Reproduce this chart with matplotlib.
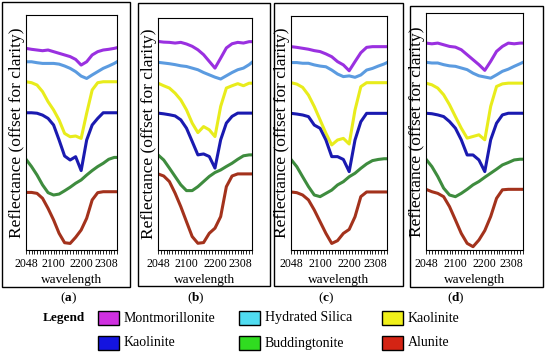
import matplotlib
matplotlib.use("Agg")
import matplotlib.pyplot as plt
from matplotlib.patches import Rectangle

plt.rcParams["font.family"] = ["Liberation Serif", "DejaVu Serif"]
plt.rcParams["mathtext.fontset"] = "custom"
plt.rcParams["mathtext.bf"] = "Liberation Serif:bold"

# band index grid (every other band), tick labels
bands = [0, 2, 4, 6, 8, 10, 12, 14, 16, 18, 20, 22, 24, 26, 28, 30, 32, 33]
tick_pos = [0, 10, 20, 29]
tick_labels = ["2048", "2100", "2200", "2308"]
panel_names = ["a", "b", "c", "d"]
minerals = ["Montmorillonite", "Hydrated Silica", "Kaolinite", "Kaolinite", "Buddingtonite", "Alunite"]

# panel (a)
a_mont = [85.8, 85.4, 85.1, 84.8, 85.1, 84.4, 83.7, 83.0, 82.3, 81.1, 78.7, 80.1, 83.0, 84.4, 85.1, 85.4, 85.8, 86.1]
a_silica = [80.1, 80.1, 79.7, 79.4, 79.4, 79.4, 79.1, 78.3, 77.3, 75.9, 74.0, 73.0, 74.5, 75.9, 77.3, 78.3, 79.4, 80.1]
a_kaol_y = [71.6, 71.2, 70.2, 67.4, 63.1, 59.6, 55.3, 49.6, 48.2, 48.5, 47.5, 58.2, 68.1, 71.2, 71.6, 71.6, 71.6, 71.6]
a_kaol_b = [58.4, 58.4, 58.2, 57.4, 56.0, 53.2, 46.8, 40.0, 38.3, 39.7, 33.8, 46.8, 53.2, 56.0, 58.4, 58.4, 58.4, 58.4]
a_budd = [38.6, 35.5, 31.9, 27.7, 24.4, 23.4, 23.8, 25.2, 26.7, 28.4, 29.8, 31.9, 33.8, 35.5, 36.9, 38.6, 39.4, 39.4]
a_alun = [24.5, 24.5, 24.1, 22.0, 17.7, 12.8, 7.1, 3.1, 2.8, 5.4, 8.5, 13.5, 21.3, 24.4, 24.8, 24.8, 24.8, 24.8]

# panel (b)
b_mont = [89.9, 89.6, 89.5, 89.2, 89.5, 88.8, 87.8, 86.3, 84.2, 81.3, 78.4, 82.7, 87.1, 88.9, 89.5, 89.2, 89.8, 89.8]
b_silica = [80.9, 80.6, 80.3, 79.9, 79.4, 79.1, 78.4, 77.7, 76.5, 75.5, 74.5, 73.7, 75.1, 76.5, 77.7, 78.4, 79.9, 80.9]
b_kaol_y = [71.9, 70.8, 69.8, 67.6, 64.7, 60.4, 54.7, 50.6, 53.2, 51.8, 48.9, 61.9, 69.8, 70.8, 71.7, 70.8, 71.9, 71.9]
b_kaol_b = [59.0, 58.7, 58.3, 57.8, 56.1, 52.5, 46.8, 41.0, 41.4, 40.3, 35.3, 47.5, 54.7, 57.6, 59.0, 59.0, 59.0, 59.0]
b_budd = [41.0, 38.8, 35.3, 31.7, 28.1, 25.6, 25.6, 27.3, 29.5, 31.7, 33.4, 34.5, 36.0, 37.4, 39.1, 40.6, 41.0, 41.0]
b_alun = [32.8, 31.9, 29.5, 24.5, 18.7, 12.2, 5.8, 2.9, 3.2, 7.2, 9.4, 14.4, 27.3, 31.9, 32.8, 32.8, 32.8, 32.8]

# panel (c)
c_mont = [86.9, 86.6, 86.2, 85.8, 85.2, 84.8, 83.8, 82.6, 80.5, 79.1, 76.6, 80.5, 84.3, 86.6, 86.9, 86.9, 86.9, 86.9]
c_silica = [80.1, 80.1, 79.8, 79.8, 79.1, 78.6, 78.3, 76.9, 75.2, 74.1, 74.4, 73.8, 74.8, 76.9, 77.6, 78.6, 79.5, 80.1]
c_kaol_y = [71.5, 70.9, 69.5, 66.2, 61.3, 55.6, 49.9, 44.9, 47.0, 47.7, 45.3, 59.8, 69.8, 71.5, 71.5, 71.5, 71.5, 71.5]
c_kaol_b = [58.4, 58.1, 57.7, 57.0, 53.4, 52.0, 47.0, 39.9, 39.9, 38.7, 33.5, 47.0, 54.8, 58.4, 58.4, 58.4, 58.4, 58.4]
c_budd = [38.7, 35.6, 31.3, 27.1, 23.5, 22.8, 24.2, 25.6, 27.8, 29.2, 31.3, 32.8, 34.9, 36.8, 38.2, 38.7, 39.0, 39.0]
c_alun = [24.8, 24.5, 23.5, 21.4, 17.1, 12.1, 7.1, 2.8, 4.0, 7.1, 8.8, 14.2, 22.8, 24.8, 24.8, 24.8, 24.8, 24.8]

# panel (d)
d_mont = [87.3, 87.0, 87.3, 86.6, 85.9, 85.6, 84.5, 82.4, 80.3, 78.2, 75.8, 79.6, 83.8, 85.9, 87.3, 87.0, 87.3, 87.3]
d_silica = [79.2, 78.9, 78.9, 78.2, 77.7, 77.5, 76.8, 76.1, 74.6, 73.5, 73.0, 72.5, 73.9, 75.4, 76.3, 77.5, 78.6, 79.2]
d_kaol_y = [70.4, 69.7, 68.3, 65.5, 61.3, 56.3, 51.4, 47.2, 47.9, 48.6, 46.5, 60.6, 69.0, 70.1, 70.4, 70.4, 70.4, 70.4]
d_kaol_b = [57.7, 57.5, 57.0, 56.3, 54.2, 51.4, 46.5, 40.1, 40.1, 38.0, 33.1, 46.5, 53.5, 57.0, 57.7, 57.7, 57.7, 57.7]
d_budd = [38.3, 35.2, 31.0, 26.1, 23.2, 22.5, 23.9, 25.6, 27.5, 28.9, 30.7, 32.4, 34.1, 35.9, 36.9, 38.0, 38.3, 38.3]
d_alun = [25.6, 24.6, 23.9, 22.5, 18.3, 12.7, 7.0, 2.8, 1.4, 4.2, 8.2, 14.1, 21.8, 25.4, 25.6, 25.6, 25.6, 25.6]

panel_data = [
    [a_mont, a_silica, a_kaol_y, a_kaol_b, a_budd, a_alun],
    [b_mont, b_silica, b_kaol_y, b_kaol_b, b_budd, b_alun],
    [c_mont, c_silica, c_kaol_y, c_kaol_b, c_budd, c_alun],
    [d_mont, d_silica, d_kaol_y, d_kaol_b, d_budd, d_alun],
]

line_colors = ["#9a30e0", "#5b9be0", "#e8ec1c", "#1a1ab0", "#3e8c3e", "#a3321c"]
patch_colors = ["#d030e0", "#50dcf0", "#f0f01a", "#1414e0", "#30dc20", "#d42414"]

W, H = 550, 360
fig = plt.figure(figsize=(5.5, 3.6), dpi=100)


def fx(px):
    return px / W


def fy(py):
    return 1 - py / H


# axes pixel boxes (left, top, right, bottom) and outer frames
axes_px = [(26, 15, 117, 250), (158, 18, 252, 250), (291, 16, 387, 250), (426, 13, 523, 250)]
frame_px = [(2, 2, 130, 287), (138, 3, 270, 286), (274, 3, 403, 286), (410, 6, 543, 287)]
label_x = [68, 196, 326, 456]

for k in range(4):
    l, t, r, b = axes_px[k]
    ax = fig.add_axes([fx(l), fy(b), fx(r - l), (b - t) / H])
    for vals, col in zip(panel_data[k], line_colors):
        ax.plot(bands, vals, color=col, lw=2.2)
    ax.set_xlim(0, 33)
    ax.set_ylim(0, 100)
    ax.set_yticks([])
    ax.set_xticks(tick_pos)
    ax.set_xticklabels(tick_labels, fontsize=8.5)
    ax.set_xticks(range(34), minor=True)
    ax.tick_params(axis="x", which="both", length=3, width=0.6, pad=2.5)
    ax.set_xlabel("wavelength", fontsize=9.5, labelpad=3)
    ax.set_ylabel("Reflectance (offset for clarity)", fontsize=12.5, labelpad=1)
    for s in ax.spines.values():
        s.set_linewidth(0.8)

    fl, ft, fr, fb = frame_px[k]
    fig.add_artist(Rectangle((fx(fl), fy(fb)), fx(fr - fl), (fb - ft) / H,
                             transform=fig.transFigure, fill=False, lw=1, color="black"))
    fig.text(fx(label_x[k]), fy(298), "($\\mathbf{%s}$)" % panel_names[k],
             ha="center", va="center", fontsize=9.5)

# legend
fig.text(fx(43), fy(318), "Legend", fontweight="bold", fontsize=9.5, va="center", ha="left")
leg_cols = [98, 239, 382]
leg_rows = [318, 343]
for i, (name, col) in enumerate(zip(minerals, patch_colors)):
    cx = leg_cols[i % 3]
    cy = leg_rows[i // 3]
    fig.add_artist(Rectangle((fx(cx), fy(cy + 7)), fx(21), 14 / H,
                             transform=fig.transFigure, facecolor=col, edgecolor="black", lw=1))
    fig.text(fx(cx + 26), fy(cy), name, fontsize=10, va="center", ha="left")

fig.savefig("out.png", dpi=100)
